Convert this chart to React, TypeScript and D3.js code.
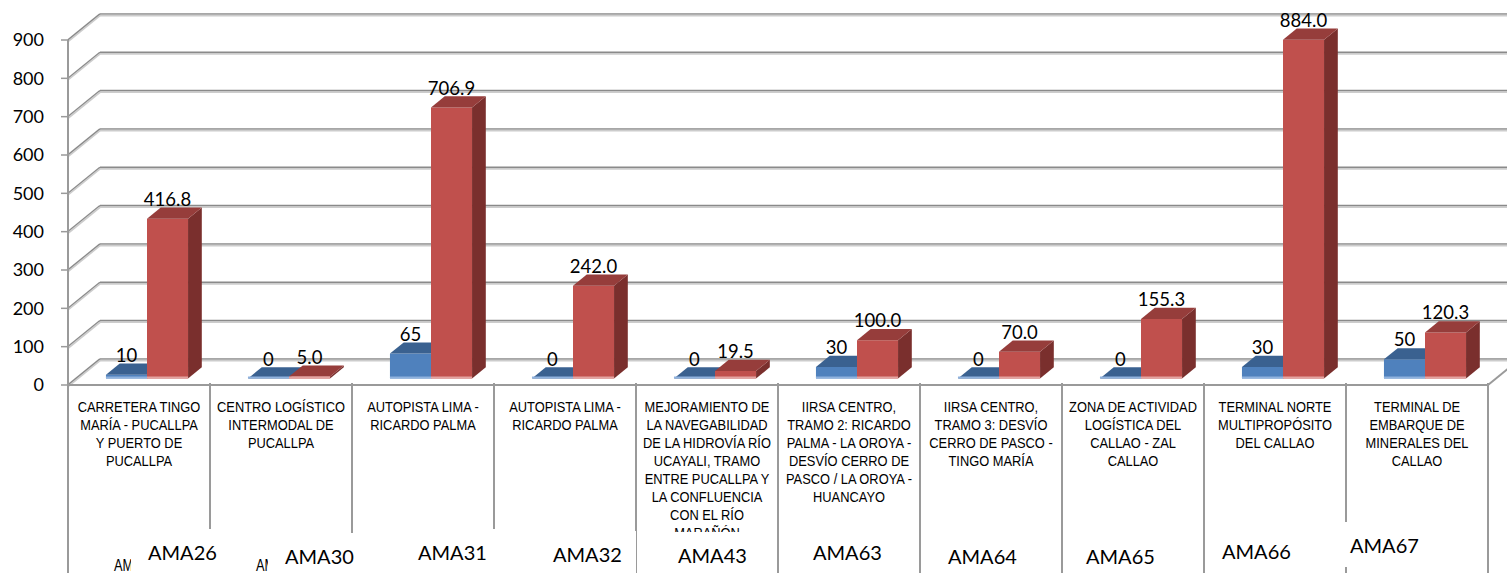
import React, { useEffect, useRef } from 'react';
import * as d3 from 'd3';

// project codes (second level of the category axis)
const codes = ['AMA26', 'AMA30', 'AMA31', 'AMA32', 'AMA43', 'AMA63', 'AMA64', 'AMA65', 'AMA66', 'AMA67'];

// project names, already broken into lines like in the original
const projectNames: string[][] = [
  ['CARRETERA TINGO', 'MARÍA - PUCALLPA', 'Y PUERTO DE', 'PUCALLPA'],
  ['CENTRO LOGÍSTICO', 'INTERMODAL DE', 'PUCALLPA'],
  ['AUTOPISTA LIMA -', 'RICARDO PALMA'],
  ['AUTOPISTA LIMA -', 'RICARDO PALMA'],
  ['MEJORAMIENTO DE', 'LA NAVEGABILIDAD', 'DE LA HIDROVÍA RÍO', 'UCAYALI, TRAMO', 'ENTRE PUCALLPA Y', 'LA CONFLUENCIA', 'CON EL RÍO', 'MARAÑÓN'],
  ['IIRSA CENTRO,', 'TRAMO 2: RICARDO', 'PALMA - LA OROYA -', 'DESVÍO CERRO DE', 'PASCO / LA OROYA -', 'HUANCAYO'],
  ['IIRSA CENTRO,', 'TRAMO 3: DESVÍO', 'CERRO DE PASCO -', 'TINGO MARÍA'],
  ['ZONA DE ACTIVIDAD', 'LOGÍSTICA DEL', 'CALLAO - ZAL', 'CALLAO'],
  ['TERMINAL NORTE', 'MULTIPROPÓSITO', 'DEL CALLAO'],
  ['TERMINAL DE', 'EMBARQUE DE', 'MINERALES DEL', 'CALLAO'],
];

const blueValues = [10, 0, 65, 0, 0, 30, 0, 0, 30, 50];
const redValues = [416.8, 5.0, 706.9, 242.0, 19.5, 100.0, 70.0, 155.3, 884.0, 120.3];

const yTicks = [0, 100, 200, 300, 400, 500, 600, 700, 800, 900];

// the code labels were hand-placed text boxes: shift from band start / baseline
const codeNudgeX = [80, 75, 66, 59, 42, 35, 28, 24, 18, 4];
const codeBaseline = [560, 564, 560, 562, 563, 560, 564, 564, 559, 553];

const W = 1507;
const H = 573;

const App: React.FC = () => {
  const svgRef = useRef<SVGSVGElement>(null);

  useEffect(() => {
    if (!svgRef.current) return;
    document.body.style.margin = '0';
    document.body.style.overflow = 'hidden';

    const svg = d3.select(svgRef.current);
    svg.selectAll('*').remove();

    const left = 68;
    const right = 1488;
    const floorY = 385;
    const depthX = 32;
    const depthY = 26;
    const zFront = 0.25;
    const zBack = 0.68;

    const x = d3.scaleBand<string>().domain(codes).range([left, right]);
    const xInner = d3.scaleBand<string>()
      .domain(['blue', 'red'])
      .range([0, x.bandwidth()])
      .paddingOuter(0.73);
    const y = d3.scaleLinear().domain([0, 900]).range([floorY, 40]);

    const proj = (px: number, v: number, z: number): [number, number] =>
      [px + z * depthX, y(v) - z * depthY];

    const defs = svg.append('defs');
    const g = svg.append('g');

    // gridlines: back wall + left side wall
    const grid = g.append('g');
    yTicks.forEach(t => {
      const yy = y(t);
      [['#8a8a8a', 0], ['#cccccc', 1.6]].forEach(([c, off]) => {
        grid.append('line')
          .attr('x1', left + depthX).attr('x2', W)
          .attr('y1', yy - depthY + (off as number)).attr('y2', yy - depthY + (off as number))
          .attr('stroke', c as string).attr('stroke-width', 1.7);
        grid.append('line')
          .attr('x1', left).attr('y1', yy + (off as number))
          .attr('x2', left + depthX).attr('y2', yy - depthY + (off as number))
          .attr('stroke', c as string).attr('stroke-width', 1.7);
      });
    });

    // floor front edge and right diagonal
    g.append('line')
      .attr('x1', left).attr('x2', right)
      .attr('y1', floorY).attr('y2', floorY)
      .attr('stroke', '#9a9a9a').attr('stroke-width', 2);
    g.append('line')
      .attr('x1', right).attr('y1', floorY)
      .attr('x2', right + depthX).attr('y2', floorY - depthY)
      .attr('stroke', '#9a9a9a').attr('stroke-width', 2);

    // value axis
    g.append('line')
      .attr('x1', left).attr('x2', left)
      .attr('y1', y(900)).attr('y2', floorY)
      .attr('stroke', '#9a9a9a').attr('stroke-width', 2);
    yTicks.forEach(t => {
      g.append('line')
        .attr('x1', left - 7).attr('x2', left)
        .attr('y1', y(t)).attr('y2', y(t))
        .attr('stroke', '#9a9a9a').attr('stroke-width', 1.5);
      g.append('text')
        .attr('x', 44).attr('y', y(t))
        .attr('dy', '0.36em')
        .attr('text-anchor', 'end')
        .attr('font-family', 'Lato, "Open Sans", sans-serif')
        .attr('font-size', 18)
        .attr('fill', '#000')
        .text(t);
    });

    // bars
    const colors = {
      blue: { front: '#4f81bd', top: '#3a6190', side: '#2f5079', edge: '#8fb2de' },
      red: { front: '#c0504d', top: '#963d3b', side: '#7a2f2d', edge: '#e3a3a1' },
    };
    const bars = g.append('g');
    const poly = (pts: [number, number][]) => 'M' + pts.map(p => p.join(',')).join('L') + 'Z';

    codes.forEach((code, i) => {
      const series: [keyof typeof colors, number][] = [['blue', blueValues[i]], ['red', redValues[i]]];
      series.forEach(([key, v]) => {
        const x0 = (x(code) as number) + (xInner(key) as number);
        const x1 = x0 + xInner.bandwidth();
        const c = colors[key];
        // front
        bars.append('path')
          .attr('d', poly([proj(x0, 0, zFront), proj(x1, 0, zFront), proj(x1, v, zFront), proj(x0, v, zFront)]))
          .attr('fill', c.front);
        // side
        bars.append('path')
          .attr('d', poly([proj(x1, 0, zFront), proj(x1, 0, zBack), proj(x1, v, zBack), proj(x1, v, zFront)]))
          .attr('fill', c.side);
        // top
        bars.append('path')
          .attr('d', poly([proj(x0, v, zFront), proj(x1, v, zFront), proj(x1, v, zBack), proj(x0, v, zBack)]))
          .attr('fill', c.top);
        // light bottom edge
        const [bx0, by] = proj(x0, 0, zFront);
        const [bx1] = proj(x1, 0, zFront);
        bars.append('line')
          .attr('x1', bx0).attr('x2', bx1)
          .attr('y1', by - 1).attr('y2', by - 1)
          .attr('stroke', c.edge).attr('stroke-width', 2);

        // data label
        const [lx, ly] = proj((x0 + x1) / 2, v, zFront);
        bars.append('text')
          .attr('x', lx).attr('y', ly - 13)
          .attr('text-anchor', 'middle')
          .attr('font-family', 'Lato, "Open Sans", sans-serif')
          .attr('font-size', 18.5)
          .attr('fill', '#000')
          .text(key === 'blue' ? d3.format('d')(v) : d3.format('.1f')(v));
      });
    });

    // category table: dividers
    const table = g.append('g');
    d3.range(codes.length + 1).forEach(k => {
      const xx = left + k * x.step();
      table.append('line')
        .attr('x1', xx).attr('x2', xx)
        .attr('y1', floorY - 2).attr('y2', H)
        .attr('stroke', '#9a9a9a').attr('stroke-width', 2);
    });

    // project names (condensed font, squeezed horizontally)
    codes.forEach((code, i) => {
      const cx = (x(code) as number) + x.bandwidth() / 2;
      const t = table.append('g')
        .attr('transform', `translate(${cx},0) scale(0.83,1)`)
        .append('text')
        .attr('text-anchor', 'middle')
        .attr('font-family', '"Liberation Sans", Arial, sans-serif')
        .attr('font-size', 15.5)
        .attr('fill', '#000');
      projectNames[i].forEach((line, j) => {
        t.append('tspan').attr('x', 0).attr('y', 412 + j * 18).text(line);
      });
    });

    // the original code labels peeking out from behind the first two text boxes
    codes.slice(0, 2).forEach((code, i) => {
      const cx = (x(code) as number) + x.bandwidth() / 2;
      const tx = (x(code) as number) + codeNudgeX[i];
      const clipId = `peek-${i}`;
      defs.append('clipPath').attr('id', clipId)
        .append('rect')
        .attr('x', cx - 40).attr('y', 540)
        .attr('width', tx - 17 - (cx - 40)).attr('height', 33);
      table.append('g')
        .attr('clip-path', `url(#${clipId})`)
        .append('g')
        .attr('transform', `translate(${cx - 4},0) scale(0.8,1)`)
        .append('text')
        .attr('x', 0).attr('y', 571)
        .attr('text-anchor', 'middle')
        .attr('font-family', '"Liberation Sans", Arial, sans-serif')
        .attr('font-size', 16)
        .attr('fill', '#000')
        .text(code);
    });

    // hand-placed code text boxes
    codes.forEach((code, i) => {
      const tx = (x(code) as number) + codeNudgeX[i];
      const by = codeBaseline[i];
      table.append('rect')
        .attr('x', tx - 17).attr('y', by - 31)
        .attr('width', 100).attr('height', 45)
        .attr('fill', '#fff');
      table.append('text')
        .attr('x', tx).attr('y', by)
        .attr('font-family', 'Lato, "Open Sans", sans-serif')
        .attr('font-size', 20)
        .attr('fill', '#000')
        .text(code);
    });
  }, []);

  return (
    <div style={{ position: 'absolute', left: 0, top: 0, width: W, height: H, background: '#fff' }}>
      <svg ref={svgRef} width={W} height={H} style={{ display: 'block' }} />
    </div>
  );
};

export default App;
